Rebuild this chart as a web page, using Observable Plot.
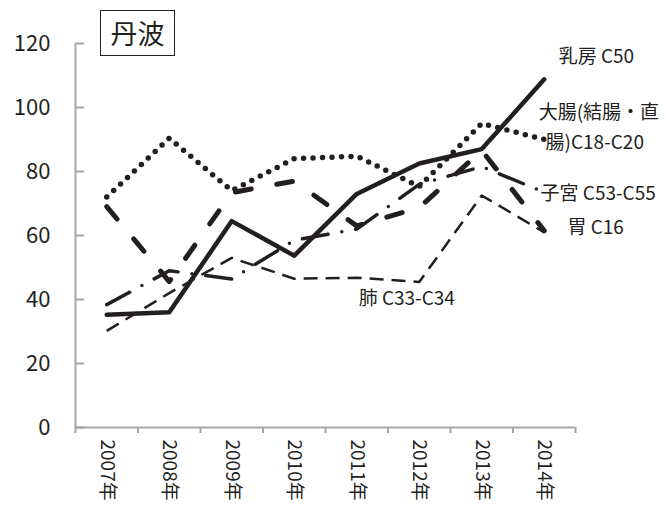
<!DOCTYPE html>
<html><head><meta charset="utf-8">
<script src="https://cdn.jsdelivr.net/npm/d3@7"></script>
<script src="https://cdn.jsdelivr.net/npm/@observablehq/plot@0.6"></script>
<style>
body{margin:0;background:#fff;}
#wrap{position:relative;width:666px;height:506px;font-family:"Noto Sans CJK JP",sans-serif;}
#title{position:absolute;left:100px;top:10px;width:73px;height:44px;border:1.5px solid #231f20;font-size:27px;line-height:44px;text-align:center;color:#231f20;}
</style></head><body><div id="wrap"><div id="title">丹波</div></div>
<script>
const years = [2007, 2008, 2009, 2010, 2011, 2012, 2013, 2014];
const yearBounds = [2006.5, 2007.5, 2008.5, 2009.5, 2010.5, 2011.5, 2012.5, 2013.5, 2014.5];
const yTicks = [0, 20, 40, 60, 80, 100, 120];

const breast = [35.2, 36.0, 64.5, 53.7, 73.0, 82.5, 87.0, 108.8];
const colon = [72.0, 90.4, 74.0, 84.0, 84.8, 75.3, 95.0, 90.0];
const uterus = [38.4, 49.0, 46.4, 58.5, 62.0, 76.0, 81.5, 73.5];
const stomach = [69.0, 45.6, 73.4, 77.0, 63.0, 68.7, 86.6, 61.5];
const lung = [30.2, 42.0, 53.0, 46.5, 46.8, 45.5, 72.5, 61.0];

const labelText = ["乳房 C50", "大腸(結腸・直", "腸)C18-C20", "子宮 C53-C55", "胃 C16", "肺 C33-C34"];
const labelYear = [2014.23, 2013.91, 2014.02, 2013.94, 2014.37, 2011.03];
const labelValue = [115.9, 98.4, 89.0, 73.1, 62.5, 40.3];

const ink = "#231f20";
const gray = "#a6a6a6";

const rows = arr => years.map((year, i) => ({year, value: arr[i]}));

const series = [
  {data: lung, style: {strokeWidth: 2.5, strokeDasharray: "14 8", strokeLinecap: "butt"}},
  {data: stomach, style: {strokeWidth: 5, strokeDasharray: "16 26", strokeLinecap: "round"}},
  {data: uterus, style: {strokeWidth: 3.5, strokeDasharray: "26 14 0 14", strokeLinecap: "round"}},
  {data: colon, style: {strokeWidth: 5.5, strokeDasharray: "0 9.5", strokeLinecap: "round"}},
  {data: breast, style: {strokeWidth: 4.5, strokeLinecap: "round"}}
];

const labels = labelText.map((t, i) => ({t, year: labelYear[i], value: labelValue[i]}));

const chart = Plot.plot({
  width: 666, height: 506,
  marginLeft: 75, marginRight: 91, marginTop: 43, marginBottom: 79,
  x: {type: "linear", domain: [2006.5, 2014.5]},
  y: {domain: [0, 120]},
  style: {fontFamily: "'Noto Sans CJK JP', sans-serif", color: ink, background: "white"},
  marks: [
    Plot.ruleY([0], {stroke: gray, strokeWidth: 2}),
    Plot.ruleX([2006.5], {stroke: gray, strokeWidth: 2}),
    Plot.axisY(yTicks, {tickSize: 9, dx: 9, tickFormat: () => "", stroke: gray, strokeWidth: 2, label: null}),
    Plot.axisY(yTicks, {tickSize: 0, tickPadding: 25, fontSize: 22, label: null, fill: ink}),
    Plot.axisX(yearBounds, {tickSize: 6, tickFormat: () => "", stroke: gray, strokeWidth: 2, label: null}),
    Plot.axisX(years, {tickSize: 0, tickPadding: 12, tickRotate: 90, tickFormat: d => d + "年", fontSize: 19, label: null, fill: ink}),
    ...series.map(s => Plot.line(rows(s.data), {x: "year", y: "value", stroke: ink, ...s.style})),
    Plot.text(labels, {x: "year", y: "value", text: "t", textAnchor: "start", fontSize: 19, fill: ink})
  ]
});
document.getElementById("wrap").prepend(chart);
</script></body></html>
